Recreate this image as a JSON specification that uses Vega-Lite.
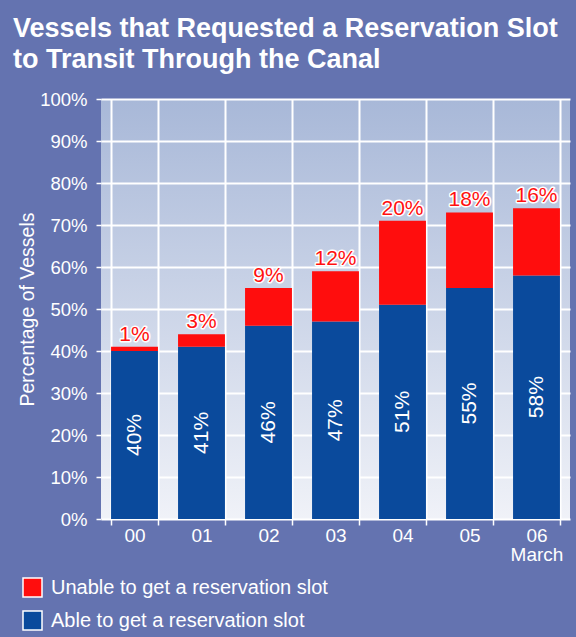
{
  "$schema": "https://vega.github.io/schema/vega-lite/v6.json",
  "width": 469,
  "height": 420,
  "autosize": {"type": "none"},
  "padding": {"left": 101, "top": 99, "right": 6, "bottom": 118},
  "background": "#6473b0",
  "title": {
    "text": ["Vessels that Requested a Reservation Slot", "to Transit Through the Canal"],
    "anchor": "start",
    "frame": "group",
    "dx": -88,
    "offset": 16,
    "color": "white",
    "font": "Liberation Sans",
    "fontSize": 27,
    "fontWeight": "bold",
    "lineHeight": 31
  },
  "data": {
    "values": [
      {"year": "00", "status": "Able to get a reservation slot", "value": 40},
      {"year": "00", "status": "Unable to get a reservation slot", "value": 1},
      {"year": "01", "status": "Able to get a reservation slot", "value": 41},
      {"year": "01", "status": "Unable to get a reservation slot", "value": 3},
      {"year": "02", "status": "Able to get a reservation slot", "value": 46},
      {"year": "02", "status": "Unable to get a reservation slot", "value": 9},
      {"year": "03", "status": "Able to get a reservation slot", "value": 47},
      {"year": "03", "status": "Unable to get a reservation slot", "value": 12},
      {"year": "04", "status": "Able to get a reservation slot", "value": 51},
      {"year": "04", "status": "Unable to get a reservation slot", "value": 20},
      {"year": "05", "status": "Able to get a reservation slot", "value": 55},
      {"year": "05", "status": "Unable to get a reservation slot", "value": 18},
      {"year": "06", "status": "Able to get a reservation slot", "value": 58},
      {"year": "06", "status": "Unable to get a reservation slot", "value": 16}
    ]
  },
  "transform": [
    {"calculate": "datum.value + '%'", "as": "label"}
  ],
  "encoding": {
    "x": {
      "field": "year",
      "type": "nominal",
      "scale": {"paddingInner": 0.3, "paddingOuter": 0.15},
      "axis": {
        "title": null,
        "labelAngle": 0,
        "labelColor": "white",
        "labelFont": "Liberation Sans",
        "labelFontSize": 19,
        "labelBaseline": "top",
        "labelLineHeight": 19,
        "labelPadding": 1,
        "labelExpr": "datum.value == '06' ? ['06', 'March'] : datum.value",
        "tickColor": "white",
        "tickSize": 6,
        "tickWidth": 1.5,
        "tickBand": "extent",
        "grid": true,
        "gridColor": "white",
        "gridWidth": 2,
        "domain": false
      }
    }
  },
  "layer": [
    {
      "mark": {"type": "bar"},
      "encoding": {
        "y": {
          "field": "value",
          "type": "quantitative",
          "stack": "zero",
          "scale": {"domain": [0, 100]},
          "axis": {
            "title": "Percentage of Vessels",
            "titleColor": "white",
            "titleFont": "Liberation Sans",
            "titleFontSize": 19.5,
            "titleFontWeight": "normal",
            "titlePadding": 2,
            "values": [0, 10, 20, 30, 40, 50, 60, 70, 80, 90, 100],
            "labelExpr": "datum.value + '%'",
            "labelColor": "white",
            "labelFont": "Liberation Sans",
            "labelFontSize": 18.5,
            "labelPadding": 9,
            "tickColor": "white",
            "tickSize": 5,
            "tickWidth": 1.5,
            "grid": true,
            "gridColor": "white",
            "gridWidth": 2,
            "domain": false
          }
        },
        "color": {
          "field": "status",
          "type": "nominal",
          "scale": {
            "domain": ["Unable to get a reservation slot", "Able to get a reservation slot"],
            "range": ["#ff0d0d", "#0a4a9c"]
          },
          "legend": {
            "title": null,
            "orient": "none",
            "legendX": -79,
            "legendY": 478,
            "direction": "vertical",
            "padding": 0,
            "symbolType": "square",
            "symbolSize": 361,
            "symbolStrokeColor": "white",
            "symbolStrokeWidth": 1.5,
            "symbolOpacity": 1,
            "labelColor": "white",
            "labelFont": "Liberation Sans",
            "labelFontSize": 20,
            "labelOffset": 8,
            "labelLimit": 500,
            "rowPadding": 8
          }
        },
        "order": {"field": "status", "sort": "ascending"}
      }
    },
    {
      "transform": [
        {"stack": "value", "groupby": ["year"], "sort": [{"field": "status", "order": "ascending"}], "as": ["v0", "v1"]},
        {"filter": "datum.status == 'Unable to get a reservation slot'"}
      ],
      "mark": {"type": "text", "font": "Liberation Sans", "fontSize": 21, "baseline": "alphabetic", "dy": -6, "stroke": "white", "strokeWidth": 3, "strokeJoin": "round", "fill": "white"},
      "encoding": {
        "y": {"field": "v1", "type": "quantitative", "scale": {"domain": [0, 100]}, "axis": null},
        "text": {"field": "label", "type": "nominal"}
      }
    },
    {
      "transform": [
        {"stack": "value", "groupby": ["year"], "sort": [{"field": "status", "order": "ascending"}], "as": ["v0", "v1"]},
        {"filter": "datum.status == 'Unable to get a reservation slot'"}
      ],
      "mark": {"type": "text", "font": "Liberation Sans", "fontSize": 21, "baseline": "alphabetic", "dy": -6, "fill": "#ff1010"},
      "encoding": {
        "y": {"field": "v1", "type": "quantitative", "scale": {"domain": [0, 100]}, "axis": null},
        "text": {"field": "label", "type": "nominal"}
      }
    },
    {
      "transform": [
        {"filter": "datum.status == 'Able to get a reservation slot'"}
      ],
      "mark": {"type": "text", "font": "Liberation Sans", "fontSize": 21, "angle": 270, "align": "center", "baseline": "middle", "fill": "white"},
      "encoding": {
        "y": {"field": "value", "type": "quantitative", "scale": {"domain": [0, 200]}, "axis": null},
        "text": {"field": "label", "type": "nominal"}
      }
    }
  ],
  "resolve": {"scale": {"y": "independent"}},
  "config": {
    "view": {
      "stroke": null,
      "fill": {
        "gradient": "linear",
        "x1": 0, "y1": 0, "x2": 0, "y2": 1,
        "stops": [
          {"offset": 0, "color": "#a8b8d8"},
          {"offset": 1, "color": "#f0f2f8"}
        ]
      }
    }
  }
}
